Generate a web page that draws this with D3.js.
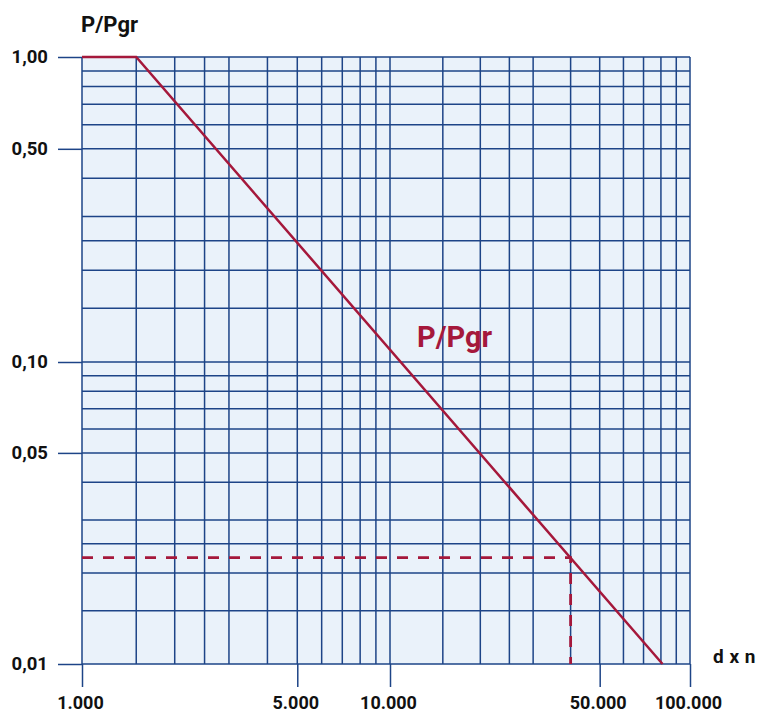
<!DOCTYPE html>
<html>
<head>
<meta charset="utf-8">
<script src="https://cdn.jsdelivr.net/npm/d3@7"></script>
<style>
body { margin: 0; background: #fff; }
text { font-family: Roboto, "Open Sans", sans-serif; font-weight: 700; }
</style>
</head>
<body>
<script>
// valores
const gradeX = [1000, 1500, 2000, 2500, 3000, 4000, 5000, 6000, 7000, 8000, 9000, 10000,
                15000, 20000, 25000, 30000, 40000, 50000, 60000, 70000, 80000, 90000, 100000]
const gradeY = [1, 0.9, 0.8, 0.7, 0.6, 0.5, 0.4, 0.3, 0.25, 0.2, 0.15,
                0.1, 0.09, 0.08, 0.07, 0.06, 0.05, 0.04, 0.03, 0.025, 0.02, 0.015, 0.01]
const ticksX = [1000, 5000, 10000, 50000, 100000]
const rotulosX = ["1.000", "5.000", "10.000", "50.000", "100.000"]
const ticksY = [1, 0.5, 0.1, 0.05, 0.01]
const rotulosY = ["1,00", "0,50", "0,10", "0,05", "0,01"]
// curva P/Pgr
const curvaX = [1000, 1500, 81000]
const curvaY = [1, 1, 0.01]
// leitura tracejada
const leituraX = 40000
const leituraY = 0.0225

const corGrade = "#1d4487"
const corCurva = "#a5183b"

svg = d3.select("body")
  .append("svg")
  .attr("width", 759)
  .attr("height", 714)

var escalaX = d3.scaleLog()
  .domain([1000, 10000, 100000])
  .range([82, 390, 690])

var escalaY = d3.scaleLog()
  .domain([1, 0.1, 0.01])
  .range([57, 362, 664])

// fundo
svg.append("rect")
  .attr("x", escalaX(1000))
  .attr("y", escalaY(1))
  .attr("width", escalaX(100000) - escalaX(1000))
  .attr("height", escalaY(0.01) - escalaY(1))
  .attr("fill", "#eaf2fa")

// grade
svg.selectAll(".gx")
  .data(gradeX)
  .enter().append("line")
  .attr("x1", d => escalaX(d)).attr("x2", d => escalaX(d))
  .attr("y1", escalaY(1)).attr("y2", escalaY(0.01))
  .attr("stroke", corGrade).attr("stroke-width", 1.5)

svg.selectAll(".gy")
  .data(gradeY)
  .enter().append("line")
  .attr("y1", d => escalaY(d)).attr("y2", d => escalaY(d))
  .attr("x1", escalaX(1000)).attr("x2", escalaX(100000))
  .attr("stroke", corGrade).attr("stroke-width", 1.5)

// eixos
eixoX = svg.append("g")
  .attr("transform", "translate(0," + escalaY(0.01) + ")")
  .call(d3.axisBottom(escalaX)
    .tickValues(ticksX)
    .tickFormat((d, i) => rotulosX[i])
    .tickSize(23)
    .tickPadding(9))

eixoY = svg.append("g")
  .attr("transform", "translate(" + escalaX(1000) + ",0)")
  .call(d3.axisLeft(escalaY)
    .tickValues(ticksY)
    .tickFormat((d, i) => rotulosY[i])
    .tickSize(24)
    .tickPadding(10))

svg.selectAll(".domain").remove()
svg.selectAll(".tick line").attr("stroke", corGrade).attr("stroke-width", 1.5)
svg.selectAll(".tick text")
  .attr("font-family", "Roboto, 'Open Sans', sans-serif")
  .attr("font-size", 18.5)
  .attr("fill", "#111")
eixoX.selectAll(".tick text").attr("dx", -2).attr("font-size", 18)

// tracejado
svg.append("path")
  .attr("d", d3.line()([
    [escalaX(1000), escalaY(leituraY)],
    [escalaX(leituraX), escalaY(leituraY)],
    [escalaX(leituraX), escalaY(0.01)]
  ]))
  .attr("fill", "none")
  .attr("stroke", corCurva)
  .attr("stroke-width", 2.8)
  .attr("stroke-dasharray", "11,10")

// curva
svg.append("path")
  .datum(d3.zip(curvaX, curvaY))
  .attr("d", d3.line().x(d => escalaX(d[0])).y(d => escalaY(d[1])))
  .attr("fill", "none")
  .attr("stroke", corCurva)
  .attr("stroke-width", 2.5)

// textos
svg.append("text")
  .attr("x", 81).attr("y", 32)
  .attr("font-size", 22)
  .attr("fill", "#111")
  .text("P/Pgr")

svg.append("text")
  .attr("x", 713).attr("y", 663)
  .attr("font-size", 19)
  .attr("fill", "#111")
  .attr("word-spacing", 1)
  .text("d x n")

svg.append("text")
  .attr("x", 417).attr("y", 347)
  .attr("font-size", 29)
  .attr("fill", corCurva)
  .text("P/Pgr")
</script>
</body>
</html>
